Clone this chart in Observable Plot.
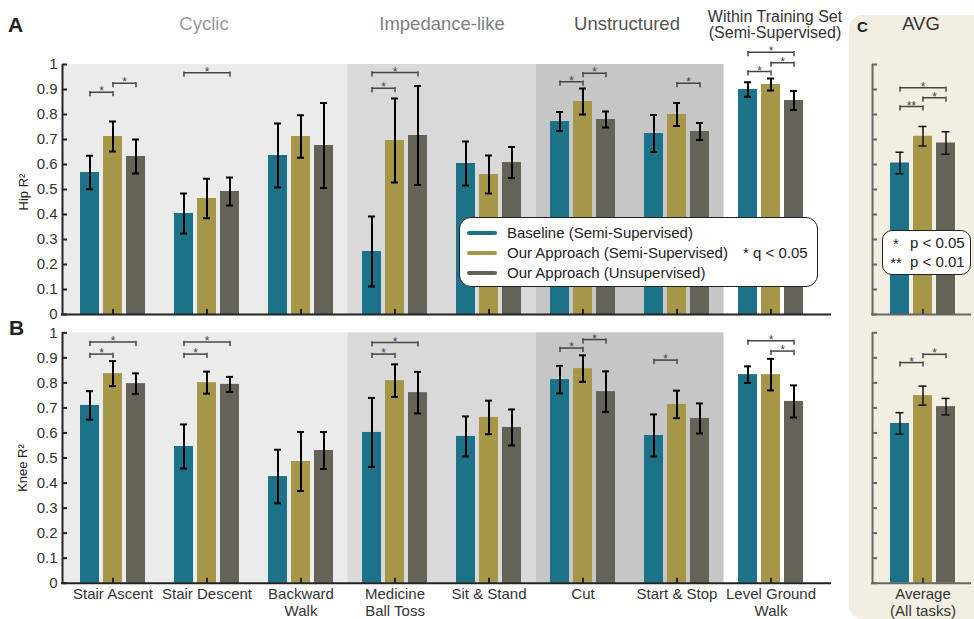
<!DOCTYPE html>
<html>
<head>
<meta charset="utf-8">
<script src="https://cdn.jsdelivr.net/npm/d3@7"></script>
<script src="https://cdn.jsdelivr.net/npm/@observablehq/plot@0.6"></script>
<style>
  body { margin: 0; background: #fff; }
  #fig { position: relative; width: 974px; height: 619px; overflow: hidden;
         font-family: "Liberation Sans", Arial, Helvetica, sans-serif; color: #222; }
  .abs { position: absolute; white-space: nowrap; line-height: 1; }
  .ctr { transform: translateX(-50%); text-align: center; }
  .group { font-size: 18.5px; }
  .sw { position: absolute; width: 30px; height: 4px; border-radius: 2px; }
  .leg { font-size: 15px; color: #222; }
  .box { position: absolute; box-sizing: border-box; border: 1.5px solid #222; background: #fff; }
</style>
</head>
<body>
<div id="fig">
  <div id="avgbg" style="position:absolute;left:849px;top:15px;width:160px;height:604px;background:#f2eee2;border-radius:14px;"></div>

  <div id="hip" class="abs" style="left:0;top:0"></div>
  <div id="knee" class="abs" style="left:0;top:300px"></div>

  <div class="abs" style="left:8px;top:14px;font-size:21px;font-weight:bold;color:#222">A</div>
  <div class="abs" style="left:9px;top:317px;font-size:21px;font-weight:bold;color:#222">B</div>
  <div class="abs" style="left:857px;top:19px;font-size:15px;font-weight:bold;color:#222">C</div>

  <div class="abs ctr group" style="left:204px;top:15px;color:#999">Cyclic</div>
  <div class="abs ctr group" style="left:442px;top:15px;color:#7f7f7f">Impedance-like</div>
  <div class="abs ctr group" style="left:627px;top:15px;color:#555">Unstructured</div>
  <div class="abs ctr" style="left:775px;top:8.5px;font-size:16px;color:#333">Within Training Set</div>
  <div class="abs ctr" style="left:775px;top:24.5px;font-size:16px;color:#333">(Semi-Supervised)</div>
  <div class="abs ctr group" style="left:921px;top:15px;color:#333">AVG</div>

  <div class="abs" style="left:23px;top:192px;font-size:13px;color:#222;transform:translate(-50%,-50%) rotate(-90deg)">Hip R²</div>
  <div class="abs" style="left:22px;top:468px;font-size:13px;color:#222;transform:translate(-50%,-50%) rotate(-90deg)">Knee R²</div>

  <!-- series legend -->
  <div class="box" style="left:459px;top:217px;width:359px;height:70px;border-radius:12px"></div>
  <div id="legendRows"></div>
  <div class="abs leg" style="left:743px;top:245px">* q &lt; 0.05</div>

  <!-- p-value legend for the average panel -->
  <div class="box" style="left:882px;top:230px;width:89px;height:45px;border-radius:10px"></div>
  <div class="abs leg ctr" style="left:896px;top:236px">*</div>
  <div class="abs leg" style="left:910px;top:235px">p &lt; 0.05</div>
  <div class="abs leg ctr" style="left:896px;top:255px">**</div>
  <div class="abs leg" style="left:910px;top:254px">p &lt; 0.01</div>
</div>

<script>
// ---- data -------------------------------------------------------------
const tasks = ["Stair Ascent", "Stair Descent", "Backward\nWalk", "Medicine\nBall Toss",
               "Sit & Stand", "Cut", "Start & Stop", "Level Ground\nWalk"];
const avgLabel = "Average\n(All tasks)";
const seriesNames = ["Baseline (Semi-Supervised)", "Our Approach (Semi-Supervised)", "Our Approach (Unsupervised)"];

// task categories (index ranges into tasks)
const categories = ["Cyclic", "Impedance-like", "Unstructured"];
const categoryFirst = [0, 3, 5];
const categoryLast = [2, 4, 6];

// Hip R² (mean and half error bar)
const hipBaseline = [0.568, 0.404, 0.636, 0.252, 0.604, 0.772, 0.724, 0.900];
const hipSemi     = [0.712, 0.464, 0.712, 0.696, 0.560, 0.852, 0.800, 0.920];
const hipUnsup    = [0.632, 0.492, 0.676, 0.716, 0.608, 0.780, 0.732, 0.856];
const hipBaselineErr = [0.067, 0.080, 0.128, 0.140, 0.088, 0.038, 0.074, 0.029];
const hipSemiErr     = [0.060, 0.079, 0.085, 0.168, 0.076, 0.052, 0.046, 0.024];
const hipUnsupErr    = [0.068, 0.056, 0.170, 0.198, 0.062, 0.032, 0.034, 0.038];
const hipAvg    = [0.606, 0.713, 0.686];
const hipAvgErr = [0.043, 0.039, 0.045];

// Knee R²
const kneeBaseline = [0.710, 0.546, 0.426, 0.602, 0.586, 0.813, 0.590, 0.833];
const kneeSemi     = [0.837, 0.801, 0.486, 0.809, 0.662, 0.857, 0.714, 0.833];
const kneeUnsup    = [0.797, 0.794, 0.530, 0.761, 0.622, 0.765, 0.658, 0.726];
const kneeBaselineErr = [0.057, 0.088, 0.107, 0.138, 0.080, 0.055, 0.084, 0.033];
const kneeSemiErr     = [0.050, 0.044, 0.118, 0.065, 0.067, 0.053, 0.055, 0.063];
const kneeUnsupErr    = [0.041, 0.030, 0.074, 0.083, 0.072, 0.081, 0.060, 0.064];
const kneeAvg    = [0.638, 0.749, 0.705];
const kneeAvgErr = [0.043, 0.038, 0.033];

// significance brackets: [task (8 = average), series a, series b, height, label]
const hipSig = [
  [0, 0, 1, 0.889, "*"], [0, 1, 2, 0.925, "*"],
  [1, 0, 2, 0.967, "*"],
  [3, 0, 2, 0.968, "*"], [3, 0, 1, 0.905, "*"],
  [5, 0, 1, 0.931, "*"], [5, 1, 2, 0.965, "*"],
  [6, 1, 2, 0.925, "*"],
  [7, 0, 2, 1.049, "*"], [7, 1, 2, 1.007, "*"], [7, 0, 1, 0.972, "*"],
  [8, 0, 2, 0.907, "*"], [8, 1, 2, 0.867, "*"], [8, 0, 1, 0.832, "**"]
];
const kneeSig = [
  [0, 0, 2, 0.963, "*"], [0, 0, 1, 0.915, "*"],
  [1, 0, 2, 0.963, "*"], [1, 0, 1, 0.915, "*"],
  [3, 0, 2, 0.961, "*"], [3, 0, 1, 0.915, "*"],
  [5, 1, 2, 0.973, "*"], [5, 0, 1, 0.939, "*"],
  [6, 0, 1, 0.891, "*"],
  [7, 0, 2, 0.968, "*"], [7, 1, 2, 0.927, "*"],
  [8, 0, 1, 0.881, "*"], [8, 1, 2, 0.914, "*"]
];

const yTicks = d3.range(0, 11).map(i => i / 10);

// ---- styling / layout ---------------------------------------------------
const colors = ["#1b7289", "#a69648", "#636358"];
const categoryFills = ["#ebebeb", "#d9d9d9", "#c6c6c6"];
const AXIS = "#222", AXIS_C = "#666";

const PX = 94;          // pixels per task slot
const X0 = 112.5;       // pixel centre of the first slot
const toSlot = p => (p - X0) / PX;
const MAIN_LEFT = toSlot(62), MAIN_RIGHT = toSlot(831);
const C_LEFT = toSlot(872), C_RIGHT = toSlot(971);
const AVG_SLOT = toSlot(922.5);
const OFF = 23 / PX, HALF = 9.5 / PX, CAP = 3.5 / PX, CAP_C = 4 / PX, TICK = 5 / PX;

const slotX = i => (i < tasks.length ? i : AVG_SLOT);
const barX = (i, s) => slotX(i) + (s - 1) * OFF;
const fmt = d => (d === 0 || d === 1 ? String(d) : d.toFixed(1));

function panel({means, errs, avg, avgErr, sig, yRange, height, xLabels}) {
  const ky = 1 / (yRange[0] - yRange[1]);   // data units per pixel
  const data = [];
  for (let s = 0; s < 3; ++s) {
    tasks.forEach((t, i) => data.push({slot: i, s, series: seriesNames[s], v: means[s][i], e: errs[s][i]}));
    data.push({slot: tasks.length, s, series: seriesNames[s], v: avg[s], e: avgErr[s]});
  }
  const main = data.filter(d => d.slot < tasks.length);
  const avgs = data.filter(d => d.slot === tasks.length);
  const brackets = sig.map(([slot, a, b, y, label]) => ({slot, a, b, y, label}));
  const bracketEnds = brackets.flatMap(d => [{x: barX(d.slot, d.a), y: d.y}, {x: barX(d.slot, d.b), y: d.y}]);

  const marks = [
    ...categories.map((c, k) => Plot.rect([k], {
      x1: () => (k === 0 ? MAIN_LEFT : categoryFirst[k] - 0.5),
      x2: () => categoryLast[k] + 0.5,
      y1: 0, y2: 1, fill: categoryFills[k]
    })),
    Plot.rect(data, {x1: d => barX(d.slot, d.s) - HALF, x2: d => barX(d.slot, d.s) + HALF, y1: 0, y2: "v", fill: "series"}),

    // error bars
    Plot.ruleX(main, {x: d => barX(d.slot, d.s), y1: d => d.v - d.e, y2: d => d.v + d.e, stroke: "#000", strokeWidth: 2}),
    Plot.ruleY(main, {x1: d => barX(d.slot, d.s) - CAP, x2: d => barX(d.slot, d.s) + CAP, y: d => d.v + d.e, stroke: "#000", strokeWidth: 2}),
    Plot.ruleY(main, {x1: d => barX(d.slot, d.s) - CAP, x2: d => barX(d.slot, d.s) + CAP, y: d => d.v - d.e, stroke: "#000", strokeWidth: 2}),
    Plot.ruleX(avgs, {x: d => barX(d.slot, d.s), y1: d => d.v - d.e, y2: d => d.v + d.e, stroke: "#111", strokeWidth: 1.5}),
    Plot.ruleY(avgs, {x1: d => barX(d.slot, d.s) - CAP_C, x2: d => barX(d.slot, d.s) + CAP_C, y: d => d.v + d.e, stroke: "#111", strokeWidth: 1.5}),
    Plot.ruleY(avgs, {x1: d => barX(d.slot, d.s) - CAP_C, x2: d => barX(d.slot, d.s) + CAP_C, y: d => d.v - d.e, stroke: "#111", strokeWidth: 1.5}),

    // main axes (ticks point inward)
    Plot.ruleX([MAIN_LEFT], {x: d => d, y1: 0, y2: 1, stroke: AXIS, strokeWidth: 2}),
    Plot.ruleY(yTicks, {y: d => d, x1: MAIN_LEFT, x2: MAIN_LEFT + TICK, stroke: AXIS, strokeWidth: 2}),
    Plot.text(yTicks, {x: MAIN_LEFT, y: d => d, text: fmt, textAnchor: "end", dx: -5, fontSize: 15, fill: "#333"}),
    Plot.ruleY([0], {y: d => d, x1: MAIN_LEFT - 1 / PX, x2: MAIN_RIGHT, stroke: AXIS, strokeWidth: 2}),
    Plot.ruleX(d3.range(tasks.length), {x: d => d, y1: 0, y2: 5 * ky, stroke: AXIS, strokeWidth: 2}),

    // average-panel axes
    Plot.ruleX([C_LEFT], {x: d => d, y1: 0, y2: 1, stroke: AXIS_C, strokeWidth: 2}),
    Plot.ruleY(yTicks, {y: d => d, x1: C_LEFT, x2: C_LEFT + TICK, stroke: AXIS_C, strokeWidth: 2}),
    Plot.ruleY([0], {y: d => d, x1: C_LEFT - 1 / PX, x2: C_RIGHT, stroke: AXIS_C, strokeWidth: 2}),
    Plot.ruleX([AVG_SLOT], {x: d => d, y1: 0, y2: 5 * ky, stroke: "#222", strokeWidth: 1.5}),

    // significance brackets
    Plot.ruleY(brackets, {x1: d => barX(d.slot, d.a), x2: d => barX(d.slot, d.b), y: "y", stroke: "#444", strokeWidth: 1.5}),
    Plot.ruleX(bracketEnds, {x: "x", y1: d => d.y - 4.5 * ky, y2: d => d.y + 0.75 * ky, stroke: "#444", strokeWidth: 1.5}),
    Plot.text(brackets, {x: d => (barX(d.slot, d.a) + barX(d.slot, d.b)) / 2, y: "y", text: "label",
                         lineAnchor: "bottom", dy: 3, fontSize: 12, fill: "#444"})
  ];

  if (xLabels) {
    marks.push(Plot.text([...tasks, avgLabel], {
      x: (d, i) => slotX(i), y: 0, text: d => d, lineAnchor: "top", dy: 3,
      fontSize: 15, lineHeight: 1.17, fill: "#333"
    }));
  }

  return Plot.plot({
    width: 974, height,
    x: {type: "linear", domain: [toSlot(0), toSlot(974)], range: [0, 974], axis: null},
    y: {type: "linear", domain: [0, 1], range: yRange, axis: null},
    color: {domain: seriesNames, range: colors},
    style: {background: "transparent", fontFamily: '"Liberation Sans", Arial, Helvetica, sans-serif', overflow: "visible"},
    marks
  });
}

document.getElementById("hip").append(panel({
  means: [hipBaseline, hipSemi, hipUnsup], errs: [hipBaselineErr, hipSemiErr, hipUnsupErr],
  avg: hipAvg, avgErr: hipAvgErr, sig: hipSig, yRange: [314, 64], height: 330, xLabels: false
}));
document.getElementById("knee").append(panel({
  means: [kneeBaseline, kneeSemi, kneeUnsup], errs: [kneeBaselineErr, kneeSemiErr, kneeUnsupErr],
  avg: kneeAvg, avgErr: kneeAvgErr, sig: kneeSig, yRange: [282.7, 32.3], height: 319, xLabels: true
}));

// legend rows: coloured line swatch + series name
const rows = document.getElementById("legendRows");
seriesNames.forEach((name, i) => {
  const base = 238 + 20 * i;
  const sw = document.createElement("div");
  sw.className = "sw";
  sw.style.cssText = `left:467px;top:${base - 7.3}px;background:${colors[i]}`;
  const tx = document.createElement("div");
  tx.className = "abs leg";
  tx.style.cssText = `left:507px;top:${base - 12.7}px`;
  tx.textContent = name;
  rows.append(sw, tx);
});
</script>
</body>
</html>
